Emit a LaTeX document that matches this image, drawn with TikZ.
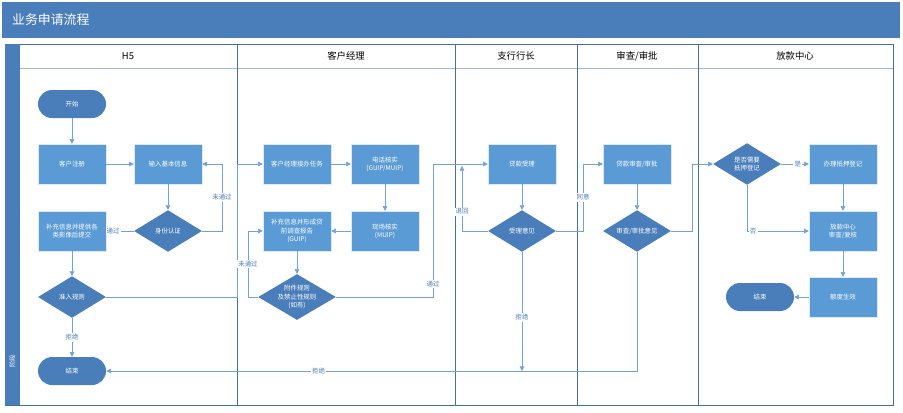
\documentclass[tikz,border=0pt]{standalone}
\usepackage{fontspec}
\setmainfont{Noto Sans CJK SC}
\usetikzlibrary{shapes.geometric, arrows.meta}
\definecolor{boxblue}{HTML}{5B9BD5}
\definecolor{darkblue}{HTML}{4A7EBB}
\definecolor{laneblue}{HTML}{41719C}
\definecolor{lineblue}{HTML}{6FA3DA}

\begin{document}
\begin{tikzpicture}[x=0.03cm, y=-0.03cm,
  every node/.style={font=\fontsize{5.5}{7}\selectfont},
  task/.style={rectangle, fill=boxblue, draw=white!80!boxblue, text=white, minimum width=2.04cm, minimum height=1.2cm, align=center, inner sep=1pt},
  check/.style={diamond, aspect=1.7, fill=darkblue, text=white, minimum width=2.04cm, minimum height=1.25cm, align=center, inner sep=0pt},
  term/.style={rectangle, rounded corners=0.42cm, fill=darkblue, text=white, minimum width=2.04cm, minimum height=0.84cm},
  flow/.style={draw=lineblue, -{Triangle[length=4pt,width=4pt]}},
  tag/.style={fill=white, text=darkblue, inner sep=1pt},
  lanehead/.style={font=\fontsize{8}{10}\selectfont}]
  \useasboundingbox (0,0) rectangle (903,412);

  % Title and lanes
  \fill[darkblue] (2,2) rectangle (900,38);
  \node[anchor=west, text=white, font=\fontsize{11}{13}\selectfont] at (8,20) {业务申请流程};
  \draw[laneblue] (5,44) rectangle (893,405);
  \fill[darkblue] (5,44) rectangle (20,405);
  \node[rotate=90, text=white, anchor=west] at (12.5,372) {阶段};
  \draw[laneblue!50] (20,68) -- (893,68);
  \foreach \x in {237,455,577,698} \draw[laneblue, line width=0.8pt] (\x,44) -- (\x,405);
  \node[lanehead] at (128,56) {H5};
  \node[lanehead] at (346,56) {客户经理};
  \node[lanehead] at (516,56) {支行行长};
  \node[lanehead] at (637,56) {审查/审批};
  \node[lanehead] at (795,56) {放款中心};

  % H5
  \node[term] (start) at (72,104) {开始};
  \node[task] (register) at (72,164) {客户注册};
  \node[task] (input) at (168,164) {输入基本信息};
  \node[check] (auth) at (168,231) {身份认证};
  \node[task] (supply) at (72,231) {补充信息并提供各\\类影像后提交};
  \node[check] (admit) at (72,297) {准入规则};
  \node[term] (end1) at (72,371) {结束};

  % Manager
  \node[task] (take) at (297,164) {客户经理接办任务};
  \node[task] (phone) at (385,164) {电话核实\\(GUIP/MUIP)};
  \node[task] (site) at (385,231) {现场核实\\(MUIP)};
  \node[task] (report) at (297,231) {补充信息并形成贷\\前调查报告\\(GUIP)};
  \node[check] (rules) at (297,297) {附件规则\\及禁止性规则\\(如有)};

  % Branch head
  \node[task] (accept) at (522,164) {贷款受理};
  \node[check] (opinion) at (522,231) {受理意见};

  % Review
  \node[task] (review) at (637,164) {贷款审查/审批};
  \node[check] (verdict) at (637,231) {审查/审批意见};

  % Loan center
  \node[check] (mortgage) at (747,164) {是否需要\\抵押登记};
  \node[task] (register2) at (843,164) {办理抵押登记};
  \node[task] (recheck) at (843,231) {放款中心\\审查/复核};
  \node[task] (limit) at (843,297) {额度生效};
  \node[term] (end2) at (760,297) {结束};

  % Connectors
  \draw[flow] (start) -- (register);
  \draw[flow] (register) -- (input);
  \draw[flow] (input) -- (auth);
  \draw[flow] (auth.east) -| (222,164) node[tag, pos=0.75] {未通过} -- (input.east);
  \draw[flow] (auth) -- node[tag, pos=0.75] {通过} (supply);
  \draw[flow] (supply) -- (admit);
  \draw[flow] (admit) -- node[tag] {拒绝} (end1);
  \draw[flow] (admit.east) -| (237,164) -- (take.west);
  \draw[flow] (take) -- (phone);
  \draw[flow] (phone) -- (site);
  \draw[flow] (site) -- (report);
  \draw[flow] (report) -- (rules);
  \draw[flow] (rules.west) -| (248,231) node[tag, pos=0.75] {未通过} -- (report.west);
  \draw[flow] (rules.east) -| (433,164) node[tag, pos=0.55] {通过} -- (accept.west);
  \draw[flow] (accept) -- (opinion);
  \draw[flow] (opinion.west) -| node[tag, pos=0.65] {退回} (462,166);
  \draw[flow] (opinion.east) -| (583,164) node[tag, pos=0.75] {同意} -- (review.west);
  \draw[flow] (opinion.south) -- node[tag, pos=0.55] {拒绝} (522,371);
  \draw[flow] (review) -- (verdict);
  \draw[flow] (verdict.east) -| (692,164) -- (mortgage.west);
  \draw[flow] (verdict.south) |- node[tag, pos=0.8] {拒绝} (end1.east);
  \draw[flow] (mortgage) -- node[tag, pos=0.6] {是} (register2);
  \draw[flow] (mortgage.south) |- node[tag, pos=0.55] {否} (recheck.west);
  \draw[flow] (register2) -- (recheck);
  \draw[flow] (recheck) -- (limit);
  \draw[flow] (limit) -- (end2);
\end{tikzpicture}
\end{document}
